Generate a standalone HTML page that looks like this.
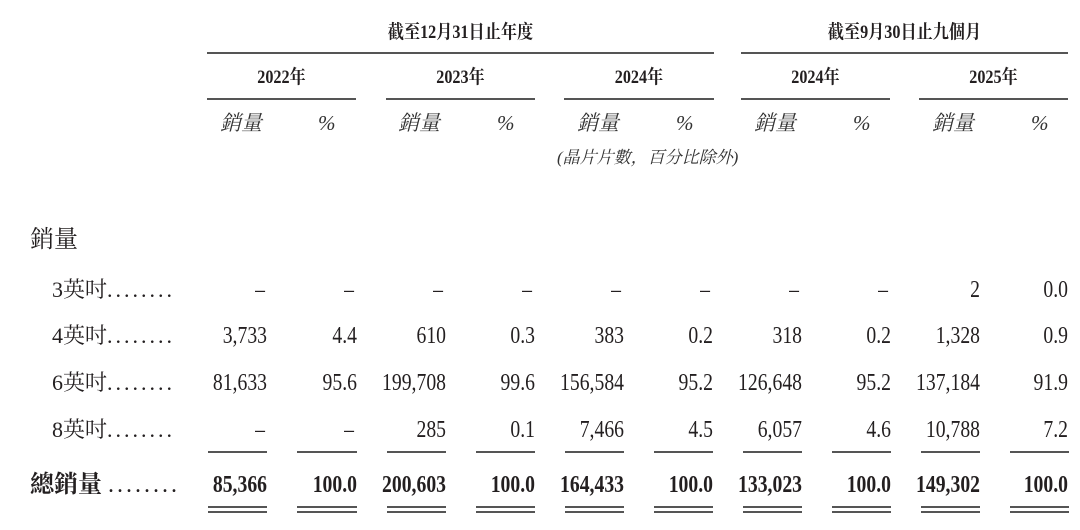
<!DOCTYPE html>
<html><head><meta charset="utf-8"><style>
html,body{margin:0;padding:0;background:#fff;}
body{width:1080px;height:530px;position:relative;overflow:hidden;font-family:"Liberation Serif","Noto Serif CJK SC","Noto Sans CJK TC",serif;color:#231f20;}
.t{position:absolute;white-space:nowrap;line-height:28px;height:28px;font-size:24px;}
.n{transform:scaleX(0.82);transform-origin:right center;text-align:right;}
.c{transform:scaleX(0.85);transform-origin:center center;text-align:center;}
.b{font-weight:bold;}
.l{position:absolute;height:2px;background:#555;}
.h{font-size:19px;font-weight:bold;}
.i{font-style:italic;font-size:21px;color:#333;font-family:"Liberation Serif","Noto Serif CJK SC",serif;}
.lab{font-family:"Liberation Serif","Noto Serif CJK SC",serif;font-size:22px;}
</style></head><body>
<div class="t h c" style="left:207px;width:507px;top:19px;">截至12月31日止年度</div>
<div class="l" style="left:207px;width:507px;top:52px;"></div>
<div class="t h c" style="left:741px;width:327px;top:19px;">截至9月30日止九個月</div>
<div class="l" style="left:741px;width:327px;top:52px;"></div>
<div class="t h c" style="left:207px;width:149px;top:64px;">2022年</div>
<div class="t h c" style="left:386px;width:149px;top:64px;">2023年</div>
<div class="t h c" style="left:564px;width:150px;top:64px;">2024年</div>
<div class="t h c" style="left:741px;width:149px;top:64px;">2024年</div>
<div class="t h c" style="left:919px;width:149px;top:64px;">2025年</div>
<div class="l" style="left:207px;width:149px;top:98px;"></div>
<div class="l" style="left:386px;width:149px;top:98px;"></div>
<div class="l" style="left:564px;width:150px;top:98px;"></div>
<div class="l" style="left:741px;width:149px;top:98px;"></div>
<div class="l" style="left:919px;width:149px;top:98px;"></div>
<div class="t i" style="left:220px;top:109px;">銷量</div><div class="t i" style="left:318px;top:109px;">%</div>
<div class="t i" style="left:398px;top:109px;">銷量</div><div class="t i" style="left:497px;top:109px;">%</div>
<div class="t i" style="left:577px;top:109px;">銷量</div><div class="t i" style="left:676px;top:109px;">%</div>
<div class="t i" style="left:754px;top:109px;">銷量</div><div class="t i" style="left:853px;top:109px;">%</div>
<div class="t i" style="left:932px;top:109px;">銷量</div><div class="t i" style="left:1031px;top:109px;">%</div>
<div class="t i" style="left:557px;top:144px;font-size:17px;">(晶片片數，百分比除外)</div>
<div class="t lab" style="left:30px;top:226px;font-size:24px;">銷量</div>
<div class="t lab" style="left:52px;top:276px;">3英吋<span style="letter-spacing:3px;">........</span></div>
<div class="t lab" style="left:52px;top:322px;">4英吋<span style="letter-spacing:3px;">........</span></div>
<div class="t lab" style="left:52px;top:369px;">6英吋<span style="letter-spacing:3px;">........</span></div>
<div class="t lab" style="left:52px;top:416px;">8英吋<span style="letter-spacing:3px;">........</span></div>
<div class="t lab b" style="left:30px;top:471px;font-size:24px;">總銷量 <span style="font-weight:normal;letter-spacing:3px;">........</span></div>

<div class="t n" style="right:815px;top:276px;">–</div>
<div class="t n" style="right:726px;top:276px;">–</div>
<div class="t n" style="right:637px;top:276px;">–</div>
<div class="t n" style="right:548px;top:276px;">–</div>
<div class="t n" style="right:459px;top:276px;">–</div>
<div class="t n" style="right:370px;top:276px;">–</div>
<div class="t n" style="right:281px;top:276px;">–</div>
<div class="t n" style="right:192px;top:276px;">–</div>
<div class="t n" style="right:100px;top:276px;">2</div>
<div class="t n" style="right:12px;top:276px;">0.0</div>
<div class="t n" style="right:813px;top:322px;">3,733</div>
<div class="t n" style="right:723px;top:322px;">4.4</div>
<div class="t n" style="right:634px;top:322px;">610</div>
<div class="t n" style="right:545px;top:322px;">0.3</div>
<div class="t n" style="right:456px;top:322px;">383</div>
<div class="t n" style="right:367px;top:322px;">0.2</div>
<div class="t n" style="right:278px;top:322px;">318</div>
<div class="t n" style="right:189px;top:322px;">0.2</div>
<div class="t n" style="right:100px;top:322px;">1,328</div>
<div class="t n" style="right:12px;top:322px;">0.9</div>
<div class="t n" style="right:813px;top:369px;">81,633</div>
<div class="t n" style="right:723px;top:369px;">95.6</div>
<div class="t n" style="right:634px;top:369px;">199,708</div>
<div class="t n" style="right:545px;top:369px;">99.6</div>
<div class="t n" style="right:456px;top:369px;">156,584</div>
<div class="t n" style="right:367px;top:369px;">95.2</div>
<div class="t n" style="right:278px;top:369px;">126,648</div>
<div class="t n" style="right:189px;top:369px;">95.2</div>
<div class="t n" style="right:100px;top:369px;">137,184</div>
<div class="t n" style="right:12px;top:369px;">91.9</div>
<div class="t n" style="right:815px;top:416px;">–</div>
<div class="t n" style="right:726px;top:416px;">–</div>
<div class="t n" style="right:634px;top:416px;">285</div>
<div class="t n" style="right:545px;top:416px;">0.1</div>
<div class="t n" style="right:456px;top:416px;">7,466</div>
<div class="t n" style="right:367px;top:416px;">4.5</div>
<div class="t n" style="right:278px;top:416px;">6,057</div>
<div class="t n" style="right:189px;top:416px;">4.6</div>
<div class="t n" style="right:100px;top:416px;">10,788</div>
<div class="t n" style="right:12px;top:416px;">7.2</div>
<div class="l" style="left:208px;width:59px;top:451px;"></div>
<div class="l" style="left:297px;width:60px;top:451px;"></div>
<div class="l" style="left:387px;width:59px;top:451px;"></div>
<div class="l" style="left:476px;width:59px;top:451px;"></div>
<div class="l" style="left:565px;width:59px;top:451px;"></div>
<div class="l" style="left:654px;width:59px;top:451px;"></div>
<div class="l" style="left:743px;width:59px;top:451px;"></div>
<div class="l" style="left:832px;width:59px;top:451px;"></div>
<div class="l" style="left:921px;width:59px;top:451px;"></div>
<div class="l" style="left:1010px;width:59px;top:451px;"></div>
<div class="t n b" style="right:813px;top:471px;">85,366</div>
<div class="t n b" style="right:723px;top:471px;">100.0</div>
<div class="t n b" style="right:634px;top:471px;">200,603</div>
<div class="t n b" style="right:545px;top:471px;">100.0</div>
<div class="t n b" style="right:456px;top:471px;">164,433</div>
<div class="t n b" style="right:367px;top:471px;">100.0</div>
<div class="t n b" style="right:278px;top:471px;">133,023</div>
<div class="t n b" style="right:189px;top:471px;">100.0</div>
<div class="t n b" style="right:100px;top:471px;">149,302</div>
<div class="t n b" style="right:12px;top:471px;">100.0</div>
<div class="l" style="left:208px;width:59px;top:506px;"></div><div class="l" style="left:208px;width:59px;top:511px;"></div>
<div class="l" style="left:297px;width:60px;top:506px;"></div><div class="l" style="left:297px;width:60px;top:511px;"></div>
<div class="l" style="left:387px;width:59px;top:506px;"></div><div class="l" style="left:387px;width:59px;top:511px;"></div>
<div class="l" style="left:476px;width:59px;top:506px;"></div><div class="l" style="left:476px;width:59px;top:511px;"></div>
<div class="l" style="left:565px;width:59px;top:506px;"></div><div class="l" style="left:565px;width:59px;top:511px;"></div>
<div class="l" style="left:654px;width:59px;top:506px;"></div><div class="l" style="left:654px;width:59px;top:511px;"></div>
<div class="l" style="left:743px;width:59px;top:506px;"></div><div class="l" style="left:743px;width:59px;top:511px;"></div>
<div class="l" style="left:832px;width:59px;top:506px;"></div><div class="l" style="left:832px;width:59px;top:511px;"></div>
<div class="l" style="left:921px;width:59px;top:506px;"></div><div class="l" style="left:921px;width:59px;top:511px;"></div>
<div class="l" style="left:1010px;width:59px;top:506px;"></div><div class="l" style="left:1010px;width:59px;top:511px;"></div>
</body></html>
